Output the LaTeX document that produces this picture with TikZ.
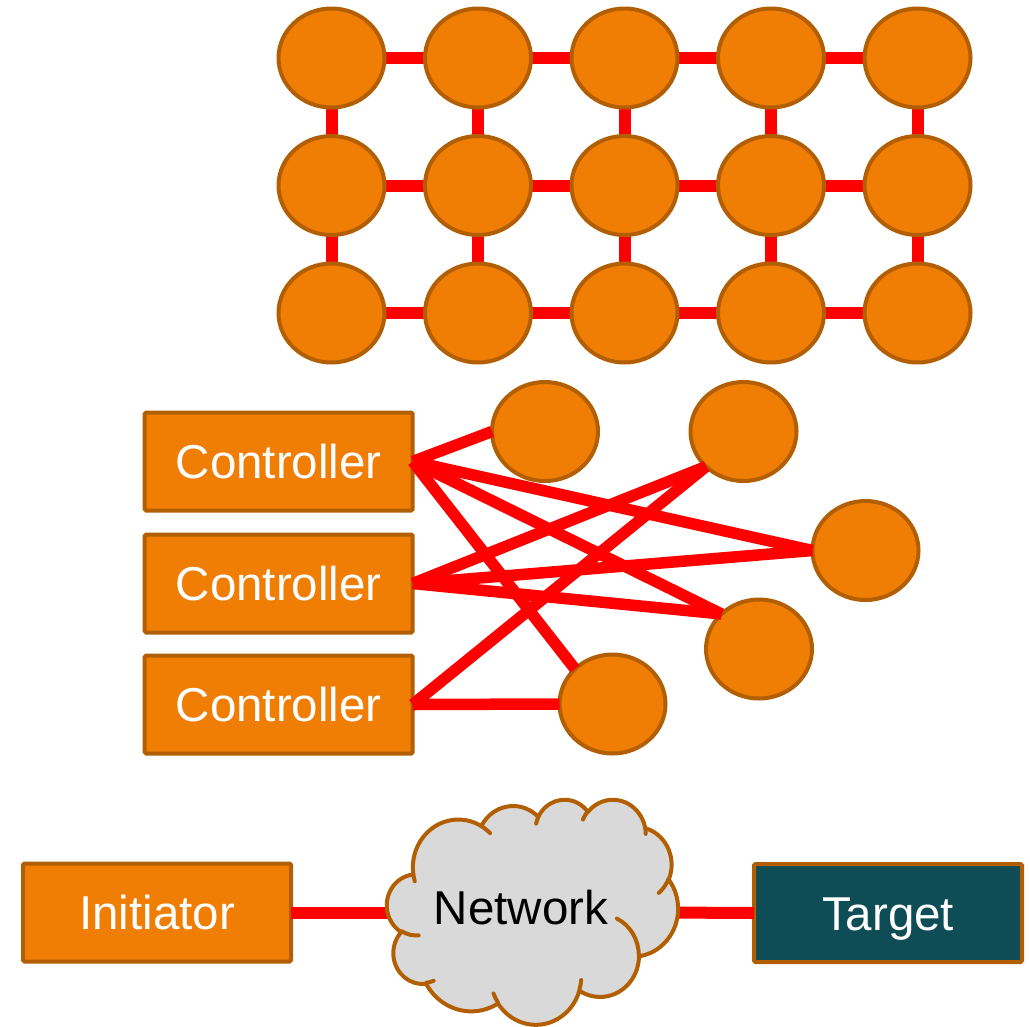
\documentclass[tikz,border=0pt]{standalone}
\usepackage{fontspec}
\newfontfamily\labelfont{Liberation Sans}
\usetikzlibrary{backgrounds,shapes.geometric}

\definecolor{nodefill}{RGB}{240,125,4}
\definecolor{nodeline}{RGB}{178,95,4}
\definecolor{linkred}{RGB}{255,0,0}
\definecolor{cloudfill}{RGB}{217,217,217}
\definecolor{targetfill}{RGB}{14,76,86}

% Elliptic arc given by its visual start angle and sweep:
% stores the parametric start angle in #1 and the parametric sweep in #2.
\newcommand\puff[6]{%
  \pgfmathsetmacro\puffst{atan2((#3)*sin(#5),(#4)*cos(#5))}%
  \pgfmathsetmacro\puffen{atan2((#3)*sin((#5)+(#6)),(#4)*cos((#5)+(#6)))}%
  \pgfmathsetmacro\puffdl{\puffen-\puffst}%
  \pgfmathsetmacro\puffdl{\puffdl+360*round(((#6)-\puffdl)/360)}%
  \global\let#1\puffst
  \global\let#2\puffdl
}

% outline of the cloud
\puff\puffSa\puffDa{67.53}{91.90}{-190.48748}{123.78053}
\puff\puffSb\puffDb{53.33}{72.67}{-144.10238}{89.94523}
\puff\puffSc\puffDc{43.65}{59.45}{-145.80792}{99.72302}
\puff\puffSd\puffDd{48.57}{65.95}{-130.98607}{117.24173}
\puff\puffSe\puffDe{53.33}{72.73}{-78.70888}{109.02692}
\puff\puffSf\puffDf{67.75}{92.20}{-46.26725}{130.26900}
\puff\puffSg\puffDg{57.85}{78.67}{0.62502}{114.03333}
\puff\puffSh\puffDh{67.52}{92.15}{22.45160}{115.17255}
\puff\puffSi\puffDi{77.20}{105.43}{66.24263}{75.71102}
\puff\puffSj\puffDj{43.60}{59.18}{-274.94208}{146.73557}
\puff\puffSk\puffDk{43.45}{59.45}{-246.82850}{152.51885}
% inner strokes of the cloud
\puff\innSa\innDa{43.45}{59.45}{86.74200}{26.42950}
\puff\innSb\innDb{43.60}{59.18}{73.61047}{11.44747}
\puff\innSc\innDc{67.52}{92.15}{137.62415}{14.08110}
\puff\innSd\innDd{67.52}{92.15}{6.45327}{15.99835}
\puff\innSe\innDe{57.85}{78.67}{-70.29235}{70.91737}
\puff\innSf\innDf{53.33}{72.73}{30.31803}{27.75150}
\puff\innSg\innDg{48.57}{65.95}{-13.74433}{14.85890}
\puff\innSh\innDh{48.57}{65.95}{-149.18145}{18.19537}
\puff\innSi\innDi{43.65}{59.45}{-163.49427}{17.68635}
\puff\innSj\innDj{67.53}{91.90}{-66.70695}{12.31935}
\puff\innSk\innDk{67.53}{91.90}{157.65435}{11.85817}

\tikzset{
  dot/.style={ellipse, fill=nodefill, draw=nodeline, line width=4pt,
    minimum width=106pt, minimum height=99pt, inner sep=0pt, outer sep=0pt},
  box/.style={rectangle, rounded corners=1.5pt, draw=nodeline, line width=4pt,
    minimum width=268pt, minimum height=98pt, inner sep=0pt, outer sep=0pt,
    font=\labelfont\fontsize{47.5}{56}\selectfont, text height=34pt, text depth=0pt},
  orangebox/.style={box, fill=nodefill, text=white},
  tealbox/.style={box, fill=targetfill, text=white},
  meshlink/.style={draw=linkred, line width=12pt},
  ctrllink/.style={draw=linkred, line width=11.5pt},
  netlink/.style={draw=linkred, line width=12pt},
  cloudline/.style={draw=nodeline, line width=4pt, line join=round, line cap=round},
}

\begin{document}
\begin{tikzpicture}[x=1pt, y=-1pt]
\useasboundingbox (0,0) rectangle (1030,1026);

% ---- mesh of nodes ----
\foreach \c/\x in {1/331.5, 2/478, 3/624.5, 4/771, 5/917.5}
  \foreach \r/\y in {1/58, 2/185.5, 3/313}
    \node[dot] (m\r\c) at (\x,\y) {};
\begin{scope}[on background layer]
  \foreach \r in {1,2,3}
    \foreach \c/\n in {1/2, 2/3, 3/4, 4/5}
      \draw[meshlink] (m\r\c) -- (m\r\n);
  \foreach \c in {1,...,5} {
    \draw[meshlink] (m1\c) -- (m2\c);
    \draw[meshlink] (m2\c) -- (m3\c);
  }
\end{scope}

% ---- controllers and their devices ----
\node[orangebox] (c1) at (278.7,461.5) {Controller};
\node[orangebox] (c2) at (278.7,583.5) {Controller};
\node[orangebox] (c3) at (278.7,704.5) {Controller};

\node[dot] (da) at (545,431.5) {};
\node[dot] (db) at (743.5,431.5) {};
\node[dot] (dc) at (865.5,550.5) {};
\node[dot] (dd) at (759,649) {};
\node[dot] (de) at (612.5,704) {};

\draw[ctrllink] (c1.east) -- (da.west);
\draw[ctrllink] (c1.east) -- (dc.west);
\draw[ctrllink] (c1.east) -- (dd.north west);
\draw[ctrllink] (c1.east) -- (de.north west);
\draw[ctrllink] (c2.east) -- (db.south west);
\draw[ctrllink] (c2.east) -- (dc.west);
\draw[ctrllink] (c2.east) -- (dd.north west);
\draw[ctrllink] (c3.east) -- (db.south west);
\draw[ctrllink] (c3.east) -- (de.west);

% ---- initiator, network, target ----
\node[orangebox] (init) at (157,912.5) {Initiator};
\node[tealbox] (target) at (888,913) {Target};
\coordinate (netW) at (400,912.5);
\coordinate (netE) at (665,912.5);
\draw[netlink] (init.east) -- (netW);
\draw[netlink] (netE) -- (target.west);

\begin{scope}[shift={(387,799)}, x=0.67361pt, y=-0.52083pt]
  \filldraw[fill=cloudfill, cloudline]
    (39.00,143.70)
    arc[start angle=\puffSa, delta angle=\puffDa, x radius=67.53, y radius=91.90]
    arc[start angle=\puffSb, delta angle=\puffDb, x radius=53.33, y radius=72.67]
    arc[start angle=\puffSc, delta angle=\puffDc, x radius=43.65, y radius=59.45]
    arc[start angle=\puffSd, delta angle=\puffDd, x radius=48.57, y radius=65.95]
    arc[start angle=\puffSe, delta angle=\puffDe, x radius=53.33, y radius=72.73]
    arc[start angle=\puffSf, delta angle=\puffDf, x radius=67.75, y radius=92.20]
    arc[start angle=\puffSg, delta angle=\puffDg, x radius=57.85, y radius=78.67]
    arc[start angle=\puffSh, delta angle=\puffDh, x radius=67.52, y radius=92.15]
    arc[start angle=\puffSi, delta angle=\puffDi, x radius=77.20, y radius=105.43]
    arc[start angle=\puffSj, delta angle=\puffDj, x radius=43.60, y radius=59.18]
    arc[start angle=\puffSk, delta angle=\puffDk, x radius=43.45, y radius=59.45]
    -- cycle;
  \draw[cloudline]
    (46.93,261.77) arc[start angle=\innSa, delta angle=\innDa, x radius=43.45, y radius=59.45]
    (69.28,348.99) arc[start angle=\innSb, delta angle=\innDb, x radius=43.60, y radius=59.18]
    (164.78,390.90) arc[start angle=\innSc, delta angle=\innDc, x radius=67.52, y radius=92.15]
    (288.27,347.51) arc[start angle=\innSd, delta angle=\innDd, x radius=67.52, y radius=92.15]
    (341.29,229.54) arc[start angle=\innSe, delta angle=\innDe, x radius=57.85, y radius=78.67]
    (417.98,153.54) arc[start angle=\innSf, delta angle=\innDf, x radius=53.33, y radius=72.73]
    (383.24,54.26) arc[start angle=\innSg, delta angle=\innDg, x radius=48.57, y radius=65.95]
    (290.78,39.52) arc[start angle=\innSh, delta angle=\innDh, x radius=48.57, y radius=65.95]
    (221.41,47.20) arc[start angle=\innSi, delta angle=\innDi, x radius=43.65, y radius=59.45]
    (140.00,51.92) arc[start angle=\innSj, delta angle=\innDj, x radius=67.53, y radius=91.90]
    (41.27,157.89) arc[start angle=\innSk, delta angle=\innDk, x radius=67.53, y radius=91.90];
\end{scope}
\node[font=\labelfont\fontsize{47.5}{56}\selectfont, text height=34pt, text depth=0pt,
  inner sep=0pt] (net) at (521,907.5) {Network};

\end{tikzpicture}
\end{document}
